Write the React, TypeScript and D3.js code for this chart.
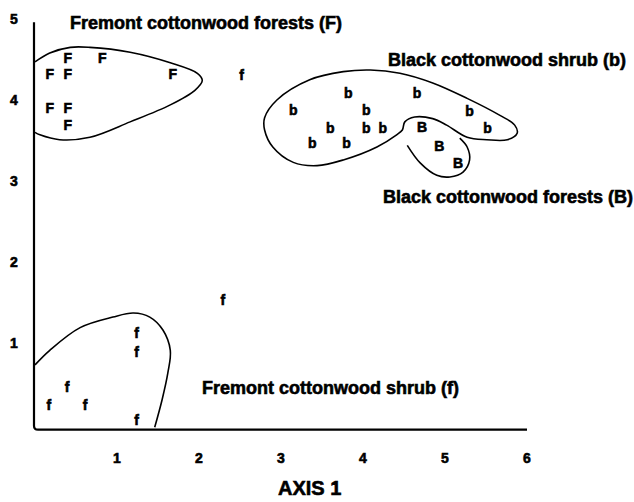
import React from "react";
import * as d3 from "d3";

const xTicks = [1, 2, 3, 4, 5, 6];
const yTicks = [1, 2, 3, 4, 5];

// Ordination scores [axis1, axis2]
const fremontForests: [number, number][] = [
  [0.4, 4.52], [0.82, 4.52],
  [0.18, 4.32], [0.4, 4.32], [1.68, 4.32],
  [0.18, 3.9], [0.4, 3.9], [0.4, 3.69],
];
const blackShrub: [number, number][] = [
  [3.82, 4.09], [4.66, 4.09],
  [3.15, 3.88], [4.04, 3.88], [5.3, 3.86],
  [3.6, 3.65], [4.04, 3.65], [4.24, 3.65], [5.52, 3.65],
  [3.38, 3.47], [3.8, 3.47],
];
const blackForests: [number, number][] = [
  [4.72, 3.67], [4.93, 3.43], [5.16, 3.22],
];
const fremontShrub: [number, number][] = [
  [1.24, 1.12], [1.24, 0.89], [0.39, 0.46], [0.17, 0.23], [0.61, 0.23],
  [1.24, 0.05], [2.29, 1.53], [2.52, 4.31],
];

// Group outlines (data units)
const hullF: [number, number][] = [
  [0, 4.47], [0.18, 4.58], [0.43, 4.65], [0.67, 4.65], [1.16, 4.59], [1.65, 4.46],
  [1.98, 4.33], [2.04, 4.24], [1.95, 4.12], [1.65, 3.94], [1.16, 3.73], [0.67, 3.54],
  [0.3, 3.51], [0.06, 3.57], [0, 3.6],
];
const hullb: [number, number][] = [
  [2.8, 3.78], [2.95, 4.0], [3.35, 4.25], [3.76, 4.35], [4.09, 4.37], [4.45, 4.33],
  [4.85, 4.21], [5.27, 4.02], [5.67, 3.81], [5.85, 3.69], [5.88, 3.59], [5.76, 3.51],
  [5.51, 3.51], [5.27, 3.54], [5.02, 3.69], [4.85, 3.77], [4.63, 3.79], [4.51, 3.73],
  [4.48, 3.63], [4.41, 3.57], [4.17, 3.42], [3.76, 3.26], [3.44, 3.19], [3.15, 3.23],
  [2.9, 3.42], [2.8, 3.63],
];
const hullB: [number, number][] = [
  [4.54, 3.44], [4.7, 3.22], [4.9, 3.07], [5.06, 3.05], [5.22, 3.11], [5.3, 3.26],
  [5.27, 3.42], [5.18, 3.53],
];
const hullf: [number, number][] = [
  [0, 0.73], [0.18, 0.91], [0.55, 1.19], [0.95, 1.32], [1.2, 1.37], [1.4, 1.32],
  [1.56, 1.16], [1.65, 0.91], [1.62, 0.63], [1.55, 0.3], [1.46, -0.04],
];

const groupLabels = [
  { text: "Fremont cottonwood forests (F)", x: 70, y: 29 },
  { text: "Black cottonwood shrub (b)", x: 388, y: 66 },
  { text: "Black cottonwood forests (B)", x: 383, y: 203 },
  { text: "Fremont cottonwood shrub (f)", x: 202, y: 394 },
];

export default function App() {
  const W = 634, H = 502;
  const x = d3.scaleLinear().domain([0, 6]).range([35, 527]);
  const y = d3.scaleLinear().domain([0, 5]).range([424, 19]);
  const font = "'Liberation Sans', Arial, sans-serif";

  const open = d3.line<[number, number]>().x(d => x(d[0])).y(d => y(d[1])).curve(d3.curveCatmullRom.alpha(0.5));
  const closed = d3.line<[number, number]>().x(d => x(d[0])).y(d => y(d[1])).curve(d3.curveCatmullRomClosed.alpha(0.5));

  const axX0 = x(0) - 1;
  const axY0 = y(-0.07);
  const axTop = y(4.96);
  const axRight = x(6);

  const markers = [
    { pts: fremontForests, ch: "F" },
    { pts: blackShrub, ch: "b" },
    { pts: blackForests, ch: "B" },
    { pts: fremontShrub, ch: "f" },
  ];

  const heavy = { stroke: "#000", strokeWidth: 0.6 };

  return (
    <svg width={W} height={H} style={{ position: "absolute", left: 0, top: 0, background: "#fff" }}>
      <rect width={W} height={H} fill="#fff" />
      <path
        d={`M${axX0},${axTop} V${axY0 - 4} Q${axX0},${axY0} ${axX0 + 4},${axY0} H${axRight}`}
        fill="none" stroke="#000" strokeWidth={2.2}
      />
      {yTicks.map(t => (
        <text key={"y" + t} x={14} y={y(t)} textAnchor="middle" dominantBaseline="central"
          fontFamily={font} fontWeight="bold" fontSize={14} {...heavy}>{t}</text>
      ))}
      {xTicks.map(t => (
        <text key={"x" + t} x={x(t)} y={458} textAnchor="middle" dominantBaseline="central"
          fontFamily={font} fontWeight="bold" fontSize={14} {...heavy}>{t}</text>
      ))}
      <text x={278} y={495} fontFamily={font} fontWeight="bold" fontSize={20} {...heavy}>AXIS 1</text>

      <path d={open(hullF) || ""} fill="none" stroke="#000" strokeWidth={1.6} />
      <path d={closed(hullb) || ""} fill="none" stroke="#000" strokeWidth={1.6} />
      <path d={open(hullB) || ""} fill="none" stroke="#000" strokeWidth={1.6} />
      <path d={open(hullf) || ""} fill="none" stroke="#000" strokeWidth={1.6} />

      {markers.map(m => m.pts.map((p, i) => (
        <text key={m.ch + i} x={x(p[0])} y={y(p[1])} textAnchor="middle" dominantBaseline="central"
          fontFamily={font} fontWeight="bold" fontSize={14} {...heavy}>{m.ch}</text>
      )))}

      {groupLabels.map(g => (
        <text key={g.text} x={g.x} y={g.y} fontFamily={font} fontWeight="bold" fontSize={18} {...heavy}>{g.text}</text>
      ))}
    </svg>
  );
}
